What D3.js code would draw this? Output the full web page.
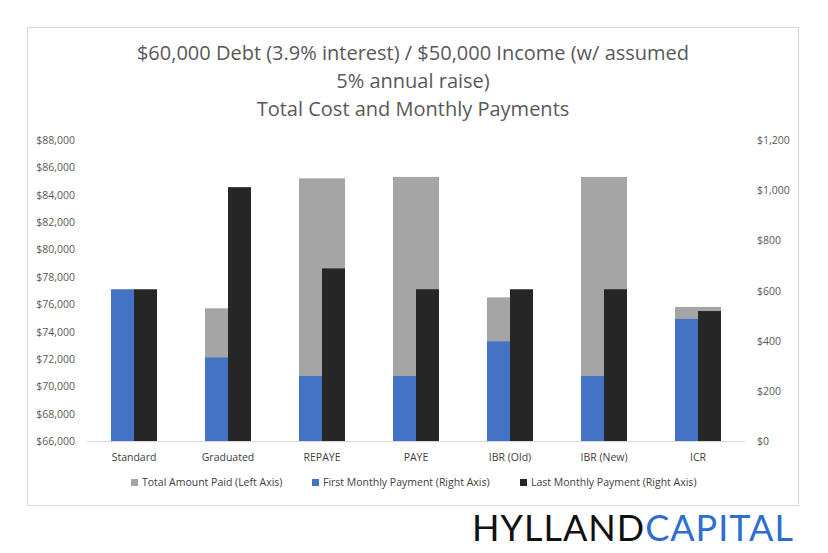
<!DOCTYPE html><html><head><meta charset="utf-8"><script src="https://cdn.jsdelivr.net/npm/d3@7"></script>
<style>body{margin:0;background:#fff;font-family:"Open Sans",Lato,sans-serif}</style></head><body><svg id="c" width="828" height="553"></svg>
<script>
const categories=["Standard","Graduated","REPAYE","PAYE","IBR (Old)","IBR (New)","ICR"];
const totalPaid=[72550,75700,85200,85300,76500,85300,75800];
const firstPayment=[605,333,259,259,397,259,487];
const lastPayment=[605,1012,688,605,605,605,518];
const leftTicks=d3.range(66000,88001,2000);
const rightTicks=d3.range(0,1201,200);
const svg=d3.select("#c");
svg.append("rect").attr("x",27.5).attr("y",27.5).attr("width",771).attr("height",478).attr("fill","#fff").attr("stroke","#d9d9d9");
const L=87,R=745,T=140,B=441;
const x=d3.scaleBand().domain(categories).range([L,R]);
const yL=d3.scaleLinear().domain([66000,88000]).range([B,T]);
const yR=d3.scaleLinear().domain([0,1200]).range([B,T]);
const bw=46;
const title=["$60,000 Debt (3.9% interest) / $50,000 Income (w/ assumed","5% annual raise)","Total Cost and Monthly Payments"];
svg.append("g").selectAll("text").data(title).join("text").attr("x",413).attr("y",(d,i)=>60+i*28).attr("text-anchor","middle").attr("font-size",20).attr("fill","#595959").text(d=>d);
const fmt=d3.format(",");
svg.append("g").selectAll("text").data(leftTicks).join("text").attr("x",L-12).attr("y",d=>yL(d)+4).attr("text-anchor","end").attr("font-size",10.5).attr("fill","#595959").text(d=>"$"+fmt(d));
svg.append("g").selectAll("text").data(rightTicks).join("text").attr("x",R+12).attr("y",d=>yR(d)+4).attr("text-anchor","start").attr("font-size",10.5).attr("fill","#595959").text(d=>"$"+fmt(d));
const cx=c=>x(c)+x.bandwidth()/2;
svg.append("g").selectAll("rect").data(categories).join("rect").attr("x",c=>cx(c)-bw/2).attr("width",bw).attr("y",(c,i)=>yL(totalPaid[i])).attr("height",(c,i)=>B-yL(totalPaid[i])).attr("fill","#a5a5a5");
svg.append("g").selectAll("rect").data(categories).join("rect").attr("x",c=>cx(c)-bw/2).attr("width",bw/2).attr("y",(c,i)=>yR(firstPayment[i])).attr("height",(c,i)=>B-yR(firstPayment[i])).attr("fill","#4472c4");
svg.append("g").selectAll("rect").data(categories).join("rect").attr("x",c=>cx(c)).attr("width",bw/2).attr("y",(c,i)=>yR(lastPayment[i])).attr("height",(c,i)=>B-yR(lastPayment[i])).attr("fill","#262626");
svg.append("line").attr("x1",L).attr("x2",R).attr("y1",B+0.5).attr("y2",B+0.5).attr("stroke","#d9d9d9");
svg.append("g").selectAll("text").data(categories).join("text").attr("x",cx).attr("y",B+20).attr("text-anchor","middle").attr("font-size",10.5).attr("fill","#404040").text(d=>d);
const leg=[["Total Amount Paid (Left Axis)","#a5a5a5",131],["First Monthly Payment (Right Axis)","#4472c4",312],["Last Monthly Payment (Right Axis)","#262626",520]];
const lg=svg.append("g").selectAll("g").data(leg).join("g");
lg.append("rect").attr("x",d=>d[2]).attr("y",479).attr("width",7).attr("height",7).attr("fill",d=>d[1]);
lg.append("text").attr("x",d=>d[2]+11).attr("y",486).attr("font-size",10.5).attr("fill","#404040").text(d=>d[0]);
const logo=svg.append("text").attr("x",472).attr("y",541).attr("font-size",36).attr("font-family","Lato, sans-serif").attr("letter-spacing",1);
logo.append("tspan").attr("fill","#111").text("HYLLAND");
logo.append("tspan").attr("fill","#2c6fd1").text("CAPITAL");
</script></body></html>
